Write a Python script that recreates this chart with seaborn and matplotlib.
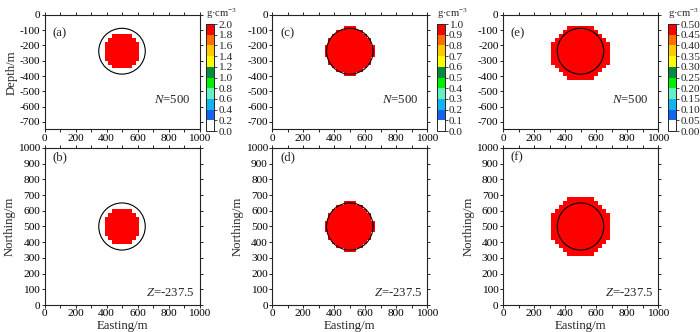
import numpy as np
import matplotlib
matplotlib.use("Agg")
import matplotlib.pyplot as plt
import seaborn as sns
from matplotlib.colors import ListedColormap, BoundaryNorm
from matplotlib.patches import Circle
import matplotlib.cm as cm

sns.set_theme(style="ticks")
plt.rcParams["font.family"] = ["Liberation Serif", "DejaVu Serif"]
plt.rcParams["mathtext.fontset"] = "custom"
plt.rcParams["mathtext.rm"] = "Liberation Serif"
plt.rcParams["mathtext.it"] = "Liberation Serif:italic"
plt.rcParams["axes.unicode_minus"] = False

# ---------------- data ----------------
panel_labels = ["(a)", "(b)", "(c)", "(d)", "(e)", "(f)"]
density_max = [2.0, 1.0, 0.5]              # colour-scale maxima for the three models
recovered_value = [1.95, 0.97, 0.485]      # recovered density inside the body
n_data = 500
slice_z = -237.5

cell = 25.0
x_nodes = np.arange(0, 1001, 25)           # easting nodes
n_nodes = np.arange(0, 1001, 25)           # northing nodes
z_nodes = -12.5 - 25 * np.arange(30)       # depth cell centres

# true body (sphere)
sphere_x, sphere_y, sphere_z, sphere_r = 500.0, 500.0, -237.5, 150.0

# recovered bodies: first row centre and widths (in cells) of each row, top to bottom
sec_top = [-137.5, -87.5, -87.5]
sec_widths = [
    [5, 7, 9, 9, 9, 9, 9, 7, 5],
    [3, 7, 9, 11, 11, 13, 13, 13, 11, 11, 9, 7, 3],
    [7, 9, 11, 13, 15, 15, 15, 15, 15, 15, 13, 11, 9, 7],
]
plan_top = [600.0, 650.0, 675.0]
plan_widths = [
    [5, 7, 9, 9, 9, 9, 9, 7, 5],
    [3, 7, 9, 11, 11, 13, 13, 13, 11, 11, 9, 7, 3],
    [7, 9, 11, 13, 15, 15, 15, 15, 15, 15, 15, 13, 11, 9, 7],
]
cmap_colors = ["#ffffff", "#1464f0", "#10b4f0", "#64f0c0", "#00f000",
               "#008c3c", "#ffff00", "#ffc800", "#ff6e00", "#ff0000"]


def build(rows_coord, top, widths, value):
    field = np.zeros((len(rows_coord), len(x_nodes)))
    for i, w in enumerate(widths):
        rc = top - i * cell
        r = np.argmin(np.abs(rows_coord - rc))
        half = (w - 1) // 2
        c = np.argmin(np.abs(x_nodes - sphere_x))
        field[r, c - half:c + half + 1] = value
    return field


fig = plt.figure(figsize=(7.0, 3.32), dpi=100)
lefts = [0.0636, 0.389, 0.7186]
w = 0.2214
top_b, top_h = 0.610, 0.345
bot_b, bot_h = 0.0813, 0.473
cbar_lefts = [0.2943, 0.6238, 0.9543]
fs = 8.2
lfs = 9.2

x_edges = np.append(x_nodes - 12.5, x_nodes[-1] + 12.5)
z_edges = np.append(z_nodes + 12.5, z_nodes[-1] - 12.5)
n_edges = np.append(n_nodes - 12.5, n_nodes[-1] + 12.5)


def style(ax):
    ax.tick_params(which="both", direction="out", length=2.2, width=0.6,
                   top=True, right=True, labelsize=fs, pad=1.0, colors="black")
    for s in ax.spines.values():
        s.set_linewidth(0.8)
        s.set_color("#222222")


for k in range(3):
    bounds = np.linspace(0, density_max[k], 11)
    cmap = ListedColormap(cmap_colors)
    norm = BoundaryNorm(bounds, cmap.N)

    # vertical section
    ax = fig.add_axes([lefts[k], top_b, w, top_h])
    sec = build(z_nodes, sec_top[k], sec_widths[k], recovered_value[k])
    ax.pcolormesh(x_edges, z_edges, sec, cmap=cmap, norm=norm, shading="flat")
    ax.add_patch(Circle((sphere_x, sphere_z), sphere_r, fill=False, lw=0.8, ec="black"))
    ax.set_xlim(0, 1000)
    ax.set_ylim(-750, 0)
    ax.set_xticks(np.arange(0, 1001, 200))
    ax.set_xticks(np.arange(0, 1001, 100), minor=True)
    ax.set_yticks(np.arange(-700, 1, 100))
    style(ax)
    if k == 0:
        ax.set_ylabel("Depth/m", fontsize=lfs, labelpad=1.5)
    ax.text(0.05, 0.84, panel_labels[2 * k], transform=ax.transAxes, fontsize=lfs,
            ha="left", va="center")
    ax.text(0.94, 0.26, f"$N$={n_data}", transform=ax.transAxes, fontsize=lfs,
            ha="right", va="center")

    # colorbar
    cax = fig.add_axes([cbar_lefts[k], 0.6054, 0.0114, 0.322])
    sm = cm.ScalarMappable(norm=norm, cmap=cmap)
    cb = fig.colorbar(sm, cax=cax, ticks=bounds, spacing="proportional")
    fmt = "%.1f" if density_max[k] >= 1 else "%.2f"
    cb.ax.set_yticklabels([fmt % b for b in bounds])
    cb.ax.tick_params(labelsize=fs, length=2.2, width=0.6, pad=0.8)
    cb.outline.set_linewidth(0.7)
    cax.text(0.0, 1.03, "g·cm$^{-3}$", transform=cax.transAxes, fontsize=fs - 0.6,
             ha="left", va="bottom")

    # horizontal slice
    ax2 = fig.add_axes([lefts[k], bot_b, w, bot_h])
    pl = build(n_nodes, plan_top[k], plan_widths[k], recovered_value[k])
    ax2.pcolormesh(x_edges, n_edges, pl, cmap=cmap, norm=norm, shading="flat")
    ax2.add_patch(Circle((sphere_x, sphere_y), sphere_r, fill=False, lw=0.8, ec="black"))
    ax2.set_xlim(0, 1000)
    ax2.set_ylim(0, 1000)
    ax2.set_xticks(np.arange(0, 1001, 200))
    ax2.set_xticks(np.arange(0, 1001, 100), minor=True)
    ax2.set_yticks(np.arange(0, 1001, 100))
    style(ax2)
    ax2.set_ylabel("Northing/m", fontsize=lfs, labelpad=1.5)
    ax2.set_xlabel("Easting/m", fontsize=lfs)
    ax2.xaxis.set_label_coords(0.5, -0.098)
    ax2.xaxis.label.set_va("top")
    ax2.text(0.05, 0.94, panel_labels[2 * k + 1], transform=ax2.transAxes, fontsize=lfs,
             ha="left", va="center")
    ax2.text(0.97, 0.075, f"$Z$={slice_z}", transform=ax2.transAxes, fontsize=lfs,
             ha="right", va="center")

fig.savefig("out.png", dpi=100)
